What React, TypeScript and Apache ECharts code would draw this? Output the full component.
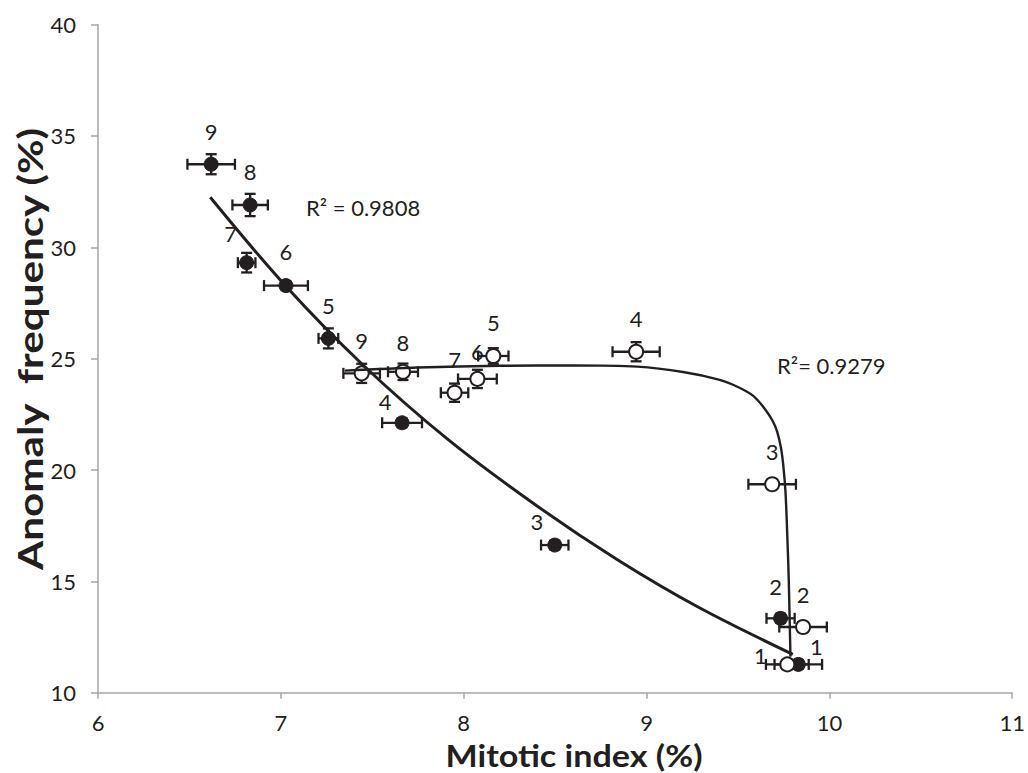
import React, { useEffect, useRef } from "react";
import * as echarts from "echarts";

// ---- data ----
const doseLabels = ["1", "2", "3", "4", "5", "6", "7", "8", "9"];

// filled circles
const filledMI = [9.83, 9.733, 8.498, 7.663, 7.26, 7.028, 6.813, 6.832, 6.619];
const filledAF = [11.27, 13.34, 16.63, 22.12, 25.91, 28.28, 29.31, 31.9, 33.73];
const filledMIerr = [0.13, 0.077, 0.075, 0.109, 0.054, 0.12, 0.048, 0.097, 0.13];
const filledAFerr = [0.2, 0.2, 0.2, 0.2, 0.45, 0.2, 0.44, 0.5, 0.45];

// open circles
const openMI = [9.77, 9.856, 9.687, 8.943, 8.162, 8.075, 7.95, 7.668, 7.442];
const openAF = [11.27, 12.95, 19.36, 25.31, 25.12, 24.09, 23.47, 24.41, 24.34];
const openMIerr = [0.117, 0.13, 0.13, 0.129, 0.083, 0.106, 0.075, 0.082, 0.1];
const openAFerr = [0.2, 0.2, 0.2, 0.43, 0.35, 0.41, 0.41, 0.37, 0.43];

// trend curves
const filledTrendX = [6.614, 7.028, 7.445, 7.917, 8.407, 8.843, 9.279, 9.8];
const filledTrendY = [32.25, 28.25, 24.75, 21.35, 18.35, 15.96, 13.86, 11.72];
const openTrendX = [7.35, 7.75, 8.2, 8.6, 8.95, 9.2, 9.4, 9.497, 9.58, 9.642, 9.69, 9.715, 9.735, 9.748, 9.76, 9.77, 9.778, 9.787];
const openTrendY = [24.46, 24.6, 24.68, 24.7, 24.64, 24.4, 24.05, 23.74, 23.35, 22.8, 22.2, 21.7, 21.0, 20.2, 19.0, 17.0, 15.0, 11.62];

const r2Filled = "R² = 0.9808";
const r2Open = "R²= 0.9279";

// label offsets (styling)
const filledLabelOffsets = [[18, -18], [-5, -32], [-18, -24], [-17, -21], [0, -33], [0, -34], [-16, -29], [0, -33], [0, -33]];
const openLabelOffsets = [[-27, -9], [0, -33], [0, -33], [0, -33], [0, -33], [0, -27], [0, -33], [0, -29], [0, -33]];

const FONT = "Lato, 'Open Sans', sans-serif";
const INK = "#231f20";

function errorSeries(xs: number[], ys: number[], xe: number[], ye: number[]) {
  return {
    type: "custom",
    z: 1,
    data: xs.map((x, i) => [x, ys[i], xe[i], ye[i]]),
    renderItem: (params: any, api: any) => {
      const x = api.value(0);
      const y = api.value(1);
      const dx = api.value(2);
      const dy = api.value(3);
      const l = api.coord([x - dx, y]);
      const r = api.coord([x + dx, y]);
      const t = api.coord([x, y + dy]);
      const b = api.coord([x, y - dy]);
      const cap = 5.5;
      const st = { stroke: INK, lineWidth: 2.3 };
      const children: any[] = [
        { type: "line", shape: { x1: l[0], y1: l[1], x2: r[0], y2: r[1] }, style: st },
        { type: "line", shape: { x1: l[0], y1: l[1] - cap, x2: l[0], y2: l[1] + cap }, style: st },
        { type: "line", shape: { x1: r[0], y1: r[1] - cap, x2: r[0], y2: r[1] + cap }, style: st },
        { type: "line", shape: { x1: t[0], y1: t[1], x2: b[0], y2: b[1] }, style: st },
        { type: "line", shape: { x1: t[0] - cap, y1: t[1], x2: t[0] + cap, y2: t[1] }, style: st },
        { type: "line", shape: { x1: b[0] - cap, y1: b[1], x2: b[0] + cap, y2: b[1] }, style: st },
      ];
      return { type: "group", children };
    },
  };
}

function scatterSeries(xs: number[], ys: number[], offsets: number[][], filled: boolean) {
  return {
    type: "scatter",
    z: 2,
    symbol: "circle",
    symbolSize: 14,
    itemStyle: filled
      ? { color: INK, borderColor: INK, borderWidth: 1, opacity: 1 }
      : { color: "#ffffff", borderColor: INK, borderWidth: 2, opacity: 1 },
    data: xs.map((x, i) => ({
      value: [x, ys[i]],
      label: {
        show: true,
        position: "inside",
        offset: offsets[i],
        formatter: doseLabels[i],
        color: INK,
        fontSize: 22,
        fontFamily: FONT,
      },
    })),
  };
}

export default function App() {
  const ref = useRef<HTMLDivElement>(null);
  useEffect(() => {
    if (!ref.current) return;
    const chart = echarts.init(ref.current, null, { renderer: "svg" });
    chart.setOption({
      animation: false,
      backgroundColor: "#ffffff",
      grid: { left: 98, right: 12, top: 24.6, bottom: 80.3, containLabel: false },
      xAxis: {
        type: "value",
        min: 6,
        max: 11,
        interval: 1,
        axisLine: { show: true, onZero: false, lineStyle: { color: "#a6a6a6", width: 1.5 } },
        axisTick: { show: true, length: 6, lineStyle: { color: "#a6a6a6", width: 1.5 } },
        axisLabel: { color: INK, fontSize: 22, fontFamily: FONT, margin: 19 },
        splitLine: { show: false },
      },
      yAxis: {
        type: "value",
        min: 10,
        max: 40,
        interval: 5,
        axisLine: { show: true, onZero: false, lineStyle: { color: "#a6a6a6", width: 1.5 } },
        axisTick: { show: true, length: 7, lineStyle: { color: "#a6a6a6", width: 1.5 } },
        axisLabel: { color: INK, fontSize: 22, fontFamily: FONT, margin: 22 },
        splitLine: { show: false },
      },
      graphic: [
        {
          type: "text",
          x: 574,
          y: 771,
          scaleX: 1.1,
          style: {
            text: "Mitotic index (%)",
            font: `bold 31px ${FONT}`,
            fill: INK,
            textAlign: "center",
            textVerticalAlign: "bottom",
          },
        },
        {
          type: "text",
          x: 13,
          y: 570,
          rotation: Math.PI / 2,
          scaleX: 1.24,
          style: { text: "Anomaly  frequency (%)", font: `bold 34px ${FONT}`, fill: INK, textVerticalAlign: "top" },
        },
        {
          type: "text",
          x: 306,
          y: 207,
          style: { text: r2Filled, font: `22px ${FONT}`, fill: INK, textVerticalAlign: "middle" },
        },
        {
          type: "text",
          x: 777,
          y: 365,
          style: { text: r2Open, font: `22px ${FONT}`, fill: INK, textVerticalAlign: "middle" },
        },
      ],
      series: [
        errorSeries(filledMI, filledAF, filledMIerr, filledAFerr),
        errorSeries(openMI, openAF, openMIerr, openAFerr),
        scatterSeries(filledMI, filledAF, filledLabelOffsets, true),
        scatterSeries(openMI, openAF, openLabelOffsets, false),
        {
          type: "line",
          z: 3,
          smooth: 0.35,
          symbol: "none",
          lineStyle: { color: INK, width: 3 },
          data: filledTrendX.map((x, i) => [x, filledTrendY[i]]),
        },
        {
          type: "line",
          z: 3,
          smooth: 0.3,
          symbol: "none",
          lineStyle: { color: INK, width: 2.4 },
          data: openTrendX.map((x, i) => [x, openTrendY[i]]),
        },
      ],
    });
    return () => chart.dispose();
  }, []);
  return (
    <div
      ref={ref}
      style={{ position: "fixed", left: 0, top: 0, width: 1028, height: 773, background: "#fff" }}
    />
  );
}
